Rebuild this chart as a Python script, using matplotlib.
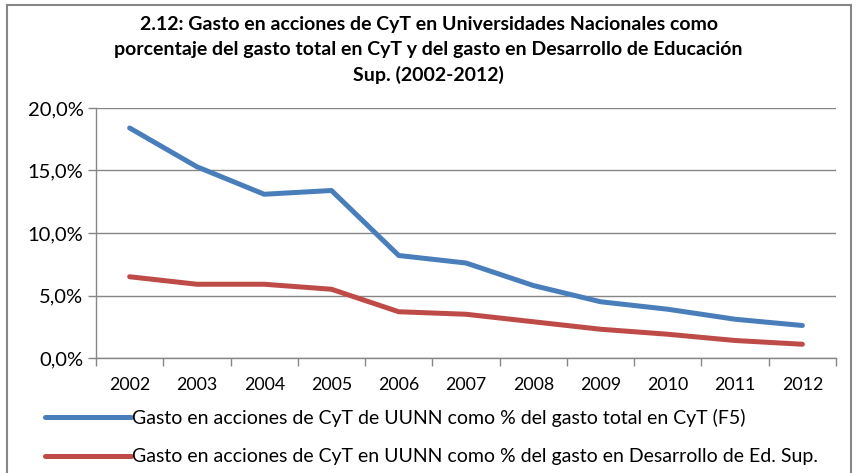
import numpy as np
from matplotlib import use
use('Agg')
import matplotlib.pyplot as plt
from matplotlib.ticker import FuncFormatter, FixedLocator
from matplotlib.patches import Rectangle

years = ['2002', '2003', '2004', '2005', '2006', '2007', '2008', '2009', '2010', '2011', '2012']
pct_total_cyt = [18.4, 15.3, 13.1, 13.4, 8.2, 7.6, 5.8, 4.5, 3.9, 3.1, 2.6]
pct_des_edsup = [6.5, 5.9, 5.9, 5.5, 3.7, 3.5, 2.9, 2.3, 1.9, 1.4, 1.1]

label_total = 'Gasto en acciones de CyT de UUNN como % del gasto total en CyT (F5)'
label_edsup = 'Gasto en acciones de CyT en UUNN como % del gasto en Desarrollo de Ed. Sup.'
title = ('2.12: Gasto en acciones de CyT en Universidades Nacionales como\n'
         'porcentaje del gasto total en CyT y del gasto en Desarrollo de Educación\n'
         'Sup. (2002-2012)')

plt.rcParams['font.family'] = ['Lato', 'DejaVu Sans']

fig = plt.figure(figsize=(8.57, 4.73), dpi=100)
ax = fig.add_axes([96 / 857, 1 - 358 / 473, 740 / 857, 250 / 473])

x = np.arange(len(years))
ax.plot(x, pct_total_cyt, color='#4A7EBB', lw=3.6, solid_capstyle='round',
        solid_joinstyle='round', label=label_total)
ax.plot(x, pct_des_edsup, color='#BE4B48', lw=3.6, solid_capstyle='round',
        solid_joinstyle='round', label=label_edsup)

ax.set_xlim(-0.5, len(years) - 0.5)
ax.set_ylim(0, 20)
ax.set_yticks([0, 5, 10, 15, 20])
ax.yaxis.set_major_formatter(FuncFormatter(lambda v, p: ('%.1f%%' % v).replace('.', ',')))
ax.set_xticks(x)
ax.set_xticklabels(years)
ax.xaxis.set_minor_locator(FixedLocator(np.arange(-0.5, len(years), 1.0)))
ax.tick_params(axis='x', which='major', length=0, pad=14, labelsize=12.8)
ax.tick_params(axis='x', which='minor', length=6, color='#868686', width=1)
ax.tick_params(axis='y', length=6, color='#868686', width=1, labelsize=14.5, pad=3)
ax.grid(axis='y', color='#868686', lw=1)
ax.set_axisbelow(True)
for s in ['top', 'right']:
    ax.spines[s].set_visible(False)
for s in ['left', 'bottom']:
    ax.spines[s].set_color('#868686')
    ax.spines[s].set_linewidth(1)

fig.text(0.5, 1 - 50 / 473, title, ha='center', va='center', fontsize=14,
         fontweight='bold', linespacing=1.58)

fig.legend(loc='upper left', bbox_to_anchor=(45 / 857, 1 - 409 / 473), frameon=False,
           fontsize=14, handlelength=4.4, handletextpad=0.1, labelspacing=1.1,
           borderaxespad=0, borderpad=0)

fig.patches.append(Rectangle((7 / 857, -0.05), 844 / 857, 1.05 - 5 / 473,
                             transform=fig.transFigure, fill=False,
                             edgecolor='#868686', lw=1.5))

fig.savefig('out.png', dpi=100)
